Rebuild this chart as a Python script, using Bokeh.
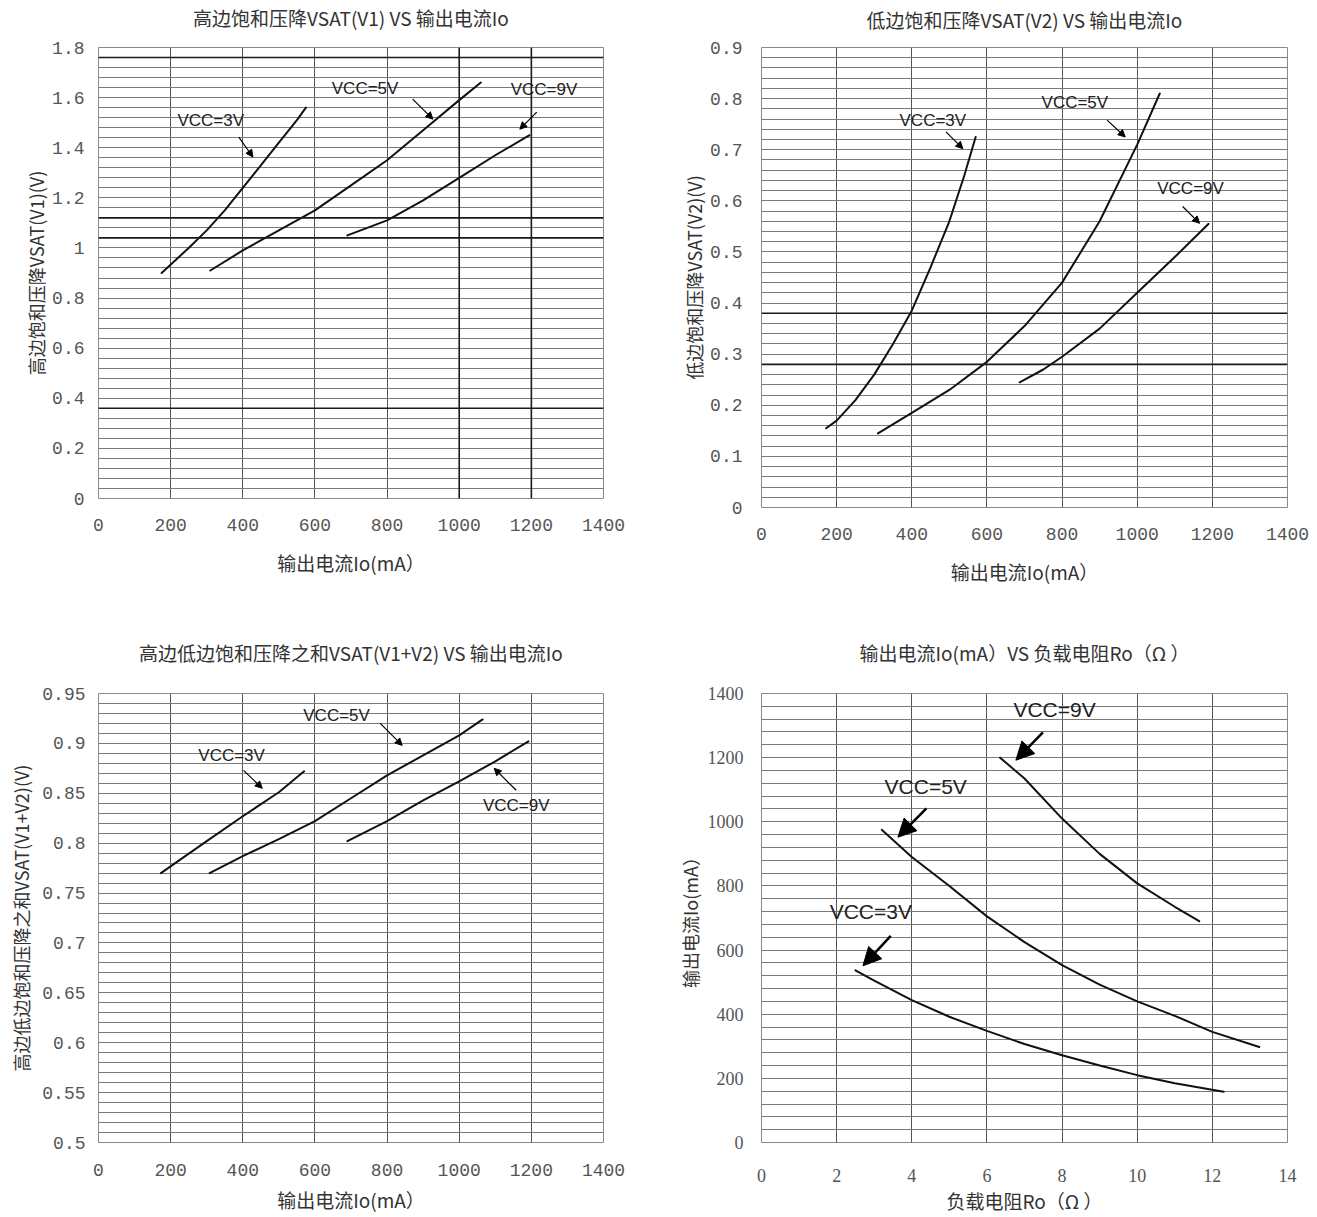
import numpy as np
from bokeh.plotting import figure
from bokeh.layouts import column, row
from bokeh.models import FixedTicker, Span, Arrow, NormalHead, Range1d, LinearAxis
from bokeh.core.properties import value
from bokeh.embed import file_html
from bokeh.resources import INLINE

# ---------------- data ----------------
# Panel 1: high-side saturation drop V1 vs Io
p1_io_3v = [175, 250, 300, 350, 400, 450, 500, 550, 575]
p1_v_3v = [0.90, 1.00, 1.07, 1.15, 1.24, 1.33, 1.42, 1.51, 1.56]
p1_io_5v = [310, 400, 500, 600, 700, 800, 900, 1000, 1060]
p1_v_5v = [0.91, 0.99, 1.07, 1.15, 1.25, 1.35, 1.47, 1.59, 1.66]
p1_io_9v = [690, 800, 900, 1000, 1100, 1195]
p1_v_9v = [1.05, 1.11, 1.19, 1.28, 1.37, 1.45]

# Panel 2: low-side saturation drop V2 vs Io
p2_io_3v = [172, 200, 250, 300, 350, 400, 450, 500, 540, 570]
p2_v_3v = [0.155, 0.17, 0.21, 0.26, 0.32, 0.385, 0.47, 0.56, 0.65, 0.725]
p2_io_5v = [310, 400, 500, 600, 700, 800, 900, 1000, 1060]
p2_v_5v = [0.145, 0.185, 0.23, 0.285, 0.355, 0.44, 0.56, 0.71, 0.81]
p2_io_9v = [687, 750, 800, 900, 1000, 1100, 1190]
p2_v_9v = [0.245, 0.27, 0.295, 0.35, 0.42, 0.49, 0.555]

# Panel 3: V1+V2 vs Io
p3_io_3v = [173, 300, 400, 500, 570]
p3_v_3v = [0.770, 0.802, 0.827, 0.851, 0.872]
p3_io_5v = [308, 400, 500, 600, 700, 800, 900, 1000, 1065]
p3_v_5v = [0.770, 0.787, 0.804, 0.822, 0.845, 0.868, 0.888, 0.908, 0.924]
p3_io_9v = [690, 800, 900, 1000, 1100, 1192]
p3_v_9v = [0.802, 0.822, 0.843, 0.862, 0.882, 0.902]

# Panel 4: Io vs load resistance Ro
p4_r_3v = [2.5, 3, 4, 5, 6, 7, 8, 9, 10, 11, 12.3]
p4_io_3v = [537, 505, 444, 392, 348, 307, 272, 240, 210, 185, 158]
p4_r_5v = [3.2, 4, 5, 6, 7, 8, 9, 10, 11, 12, 13.25]
p4_io_5v = [975, 890, 800, 705, 625, 553, 492, 440, 395, 345, 298]
p4_r_9v = [6.35, 7, 8, 9, 10, 11, 11.65]
p4_io_9v = [1200, 1135, 1010, 900, 808, 735, 690]

# tick values / labels
io_ticks = [0, 200, 400, 600, 800, 1000, 1200, 1400]
io_labels = ["0", "200", "400", "600", "800", "1000", "1200", "1400"]
p1_yticks = [0, 0.2, 0.4, 0.6, 0.8, 1.0, 1.2, 1.4, 1.6, 1.8]
p1_ylabels = ["0", "0.2", "0.4", "0.6", "0.8", "1", "1.2", "1.4", "1.6", "1.8"]
p2_yticks = [0, 0.1, 0.2, 0.3, 0.4, 0.5, 0.6, 0.7, 0.8, 0.9]
p2_ylabels = ["0", "0.1", "0.2", "0.3", "0.4", "0.5", "0.6", "0.7", "0.8", "0.9"]
p3_yticks = [0.5, 0.55, 0.6, 0.65, 0.7, 0.75, 0.8, 0.85, 0.9, 0.95]
p3_ylabels = ["0.5", "0.55", "0.6", "0.65", "0.7", "0.75", "0.8", "0.85", "0.9", "0.95"]
r_ticks = [0, 2, 4, 6, 8, 10, 12, 14]
r_labels = ["0", "2", "4", "6", "8", "10", "12", "14"]
p4_yticks = [0, 200, 400, 600, 800, 1000, 1200, 1400]
p4_ylabels = ["0", "200", "400", "600", "800", "1000", "1200", "1400"]

# annotations: label text, label position, arrow start/end
vcc_text = ["VCC=3V", "VCC=5V", "VCC=9V"]
p1_lab_x = [311, 739, 1235]; p1_lab_y = [1.51, 1.637, 1.633]
p1_arr = [(389, 1.442, 428, 1.363), (871, 1.594, 927, 1.514), (1215, 1.542, 1168, 1.474)]
p2_lab_x = [456, 834, 1142]; p2_lab_y = [0.758, 0.793, 0.624]
p2_arr = [(491, 0.735, 536, 0.702), (920, 0.758, 968, 0.725), (1121, 0.589, 1166, 0.556)]
p3_lab_x = [369, 660, 1158]; p3_lab_y = [0.888, 0.928, 0.838]
p3_arr = [(402, 0.873, 454, 0.855), (781, 0.920, 842, 0.898), (1158, 0.853, 1097, 0.875)]
p4_lab_x = [2.91, 4.37, 7.8]; p4_lab_y = [719, 1111, 1350]
p4_arr = [(3.44, 644, 2.70, 551), (4.39, 1042, 3.63, 952), (7.49, 1279, 6.77, 1192)]

CJK = "Noto Sans CJK SC"
MONO = "Liberation Mono"


def plain_axis(ax):
    ax.axis_line_color = None
    ax.major_tick_line_color = None
    ax.minor_tick_line_color = None
    ax.major_tick_out = 0
    ax.major_tick_in = 0
    ax.minor_tick_out = 0
    ax.minor_tick_in = 0
    ax.axis_label_text_font = CJK
    ax.axis_label_text_font_style = "normal"
    ax.axis_label_text_color = "#333333"


def make_fig(title, title_std, xlabel, ylabel, fw, fh, left, right, top, bottom, xr, yr,
             xt, xl, yt, yl, ystep, tick_font, tick_size,
             x_std, x_lstd, y_std, y_lstd):
    p = figure(frame_width=fw, frame_height=fh,
               min_border_left=left, min_border_right=right,
               min_border_top=top, min_border_bottom=bottom,
               x_range=Range1d(*xr), y_range=Range1d(*yr),
               output_backend="svg", toolbar_location=None,
               background_fill_color="white", border_fill_color="white")
    xa = p.below[0]
    ya = p.left[0]

    xtick = FixedTicker(ticks=xt)
    minor = list(np.round(np.arange(yr[0], yr[1] + ystep / 2, ystep), 6))
    ytick = FixedTicker(ticks=yt, minor_ticks=minor)
    xa.ticker = xtick
    ya.ticker = ytick
    p.xgrid.ticker = xtick
    p.ygrid.ticker = ytick
    xa.major_label_overrides = {t: s for t, s in zip(xt, xl)}
    ya.major_label_overrides = {t: s for t, s in zip(yt, yl)}

    for ax in (xa, ya):
        plain_axis(ax)
        ax.major_label_text_font = tick_font
        ax.major_label_text_font_size = tick_size
        ax.major_label_text_color = "#555555"
    xa.axis_label_text_font_size = "19px"
    ya.axis_label_text_font_size = "18px"
    xa.axis_label = xlabel
    ya.axis_label = ylabel
    xa.major_label_standoff = x_std
    xa.axis_label_standoff = x_lstd
    ya.major_label_standoff = y_std
    ya.axis_label_standoff = y_lstd

    # chart title: label of an empty axis placed above the frame
    tax = LinearAxis(ticker=FixedTicker(ticks=[]), axis_label=title)
    plain_axis(tax)
    tax.major_label_text_font_size = "0px"
    tax.major_label_standoff = 0
    tax.axis_label_standoff = title_std
    tax.axis_label_text_font_size = "19px"
    p.add_layout(tax, "above")

    p.xgrid.grid_line_color = "#555555"
    p.xgrid.grid_line_width = 1
    p.ygrid.grid_line_color = "#7a7a7a"
    p.ygrid.grid_line_width = 1
    p.ygrid.minor_grid_line_color = "#7a7a7a"
    p.ygrid.minor_grid_line_width = 1
    p.outline_line_color = "#8a8a8a"
    p.outline_line_width = 1
    return p


def add_curves(p, xs_list, ys_list):
    for xs, ys in zip(xs_list, ys_list):
        p.line(xs, ys, line_color="#111111", line_width=2, line_join="round", line_cap="round")


def add_notes(p, lx, ly, arrows, fsize, head, lw):
    p.text(x=lx, y=ly, text=vcc_text, text_align="center", text_baseline="middle",
           text_font=value("Liberation Sans"), text_font_size=fsize, text_color="#222222")
    for (xs, ys, xe, ye) in arrows:
        p.add_layout(Arrow(end=NormalHead(size=head, fill_color="black", line_color="black"),
                           x_start=xs, y_start=ys, x_end=xe, y_end=ye,
                           line_color="black", line_width=lw))


def thick_h(p, vals):
    for v in vals:
        p.add_layout(Span(location=v, dimension="width", line_color="#1a1a1a", line_width=1.6))


def thick_v(p, vals):
    for v in vals:
        p.add_layout(Span(location=v, dimension="height", line_color="#1a1a1a", line_width=1.6))


# column 1: left 98, frame 505, right 40 ; column 2: left 118, frame 526, right 22
# row 1: top 46 (height 600) ; row 2: top 92, frame 449, bottom 72
p1 = make_fig("高边饱和压降VSAT(V1) VS 输出电流Io", 17, "输出电流Io(mA）", "高边饱和压降VSAT(V1)(V)",
              505, 451, 98, 40, 46, 103, (0, 1400), (0, 1.8),
              io_ticks, io_labels, p1_yticks, p1_ylabels, 0.04, MONO, "18px",
              20, 15, 14, 0)
thick_h(p1, [1.76, 1.12, 1.04, 0.36])
thick_v(p1, [1000, 1200])
add_curves(p1, [p1_io_3v, p1_io_5v, p1_io_9v], [p1_v_3v, p1_v_5v, p1_v_9v])
add_notes(p1, p1_lab_x, p1_lab_y, p1_arr, "17px", 7, 1.2)

p2 = make_fig("低边饱和压降VSAT(V2) VS 输出电流Io", 15, "输出电流Io(mA）", "低边饱和压降VSAT(V2)(V)",
              526, 460, 118, 22, 46, 94, (0, 1400), (0, 0.9),
              io_ticks, io_labels, p2_yticks, p2_ylabels, 0.02, MONO, "18px",
              20, 15, 19, 0)
thick_h(p2, [0.38, 0.28])
add_curves(p2, [p2_io_3v, p2_io_5v, p2_io_9v], [p2_v_3v, p2_v_5v, p2_v_9v])
add_notes(p2, p2_lab_x, p2_lab_y, p2_arr, "17px", 7, 1.2)

p3 = make_fig("高边低边饱和压降之和VSAT(V1+V2) VS 输出电流Io", 28, "输出电流Io(mA）", "高边低边饱和压降之和VSAT(V1+V2)(V)",
              505, 449, 98, 40, 92, 72, (0, 1400), (0.5, 0.95),
              io_ticks, io_labels, p3_yticks, p3_ylabels, 0.01, MONO, "18px",
              21, 7, 13, 5)
add_curves(p3, [p3_io_3v, p3_io_5v, p3_io_9v], [p3_v_3v, p3_v_5v, p3_v_9v])
add_notes(p3, p3_lab_x, p3_lab_y, p3_arr, "17px", 7, 1.2)

p4 = make_fig("输出电流Io(mA）VS 负载电阻Ro（Ω ）", 28, "负载电阻Ro（Ω ）", "输出电流Io(mA）",
              526, 449, 118, 22, 92, 72, (0, 14), (0, 1400),
              r_ticks, r_labels, p4_yticks, p4_ylabels, 40, "Liberation Serif", "18px",
              26, 2, 18, 2)
add_curves(p4, [p4_r_3v, p4_r_5v, p4_r_9v], [p4_io_3v, p4_io_5v, p4_io_9v])
add_notes(p4, p4_lab_x, p4_lab_y, p4_arr, "21px", 18, 2.5)

layout = column(row(p1, p2), row(p3, p4))
open("out.html", "w").write(file_html(layout, INLINE))
